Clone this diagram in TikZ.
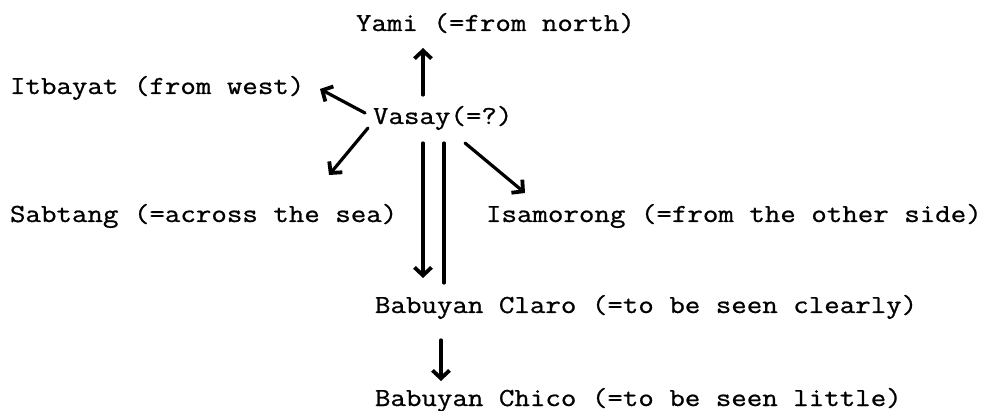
\documentclass[tikz,border=0pt]{standalone}
\usepackage{graphicx}
\usepackage{fontspec}
\setmonofont{Latin Modern Mono}[FakeBold=0.8]
\usetikzlibrary{arrows.meta}
\newcommand{\tw}[1]{\scalebox{1.157}[1]{\fontsize{26}{26}\selectfont\ttfamily\bfseries #1}}
\tikzset{
  lbl/.style={inner sep=0pt, outer sep=0pt, anchor=base west},
  conn/.style={line width=3.2pt, line cap=round},
  arr/.style={conn, -{Straight Barb[length=8pt,width=17pt,line width=3.8pt]}}
}
\begin{document}
\begin{tikzpicture}[x=1pt,y=-1pt]
\useasboundingbox (0,0) rectangle (990,411);
\node[lbl] (yami)  at (356,31)  {\tw{Yami (=from north)}};
\node[lbl] (itb)   at (10,94)   {\tw{Itbayat (from west)}};
\node[lbl] (vasay) at (373,124) {\tw{Vasay(=?)}};
\node[lbl] (sab)   at (10,222)  {\tw{Sabtang (=across the sea)}};
\node[lbl] (isa)   at (486,222) {\tw{Isamorong (=from the other side)}};
\node[lbl] (claro) at (375,313) {\tw{Babuyan Claro (=to be seen clearly)}};
\node[lbl] (chico) at (375,406) {\tw{Babuyan Chico (=to be seen little)}};
% connector end points
\coordinate (vN)  at (423,95);
\coordinate (yS)  at (423,48);
\coordinate (vW)  at (365,113);
\coordinate (iE)  at (320,89);
\coordinate (vSW) at (368,128);
\coordinate (sNE) at (329,175);
\coordinate (vSE) at (465,143);
\coordinate (isN) at (525,193);
\coordinate (vS1) at (423,143);
\coordinate (cN1) at (423,278);
\coordinate (vS2) at (444,143);
\coordinate (cN2) at (444,283);
\coordinate (cS)  at (441,340);
\coordinate (chN) at (441,381);
\draw[arr] (vN) -- (yS);
\draw[arr] (vW) -- (iE);
\draw[arr] (vSW) -- (sNE);
\draw[arr] (vSE) -- (isN);
\draw[arr] (vS1) -- (cN1);
\draw[conn] (vS2) -- (cN2);
\draw[arr] (cS) -- (chN);
\end{tikzpicture}
\end{document}
